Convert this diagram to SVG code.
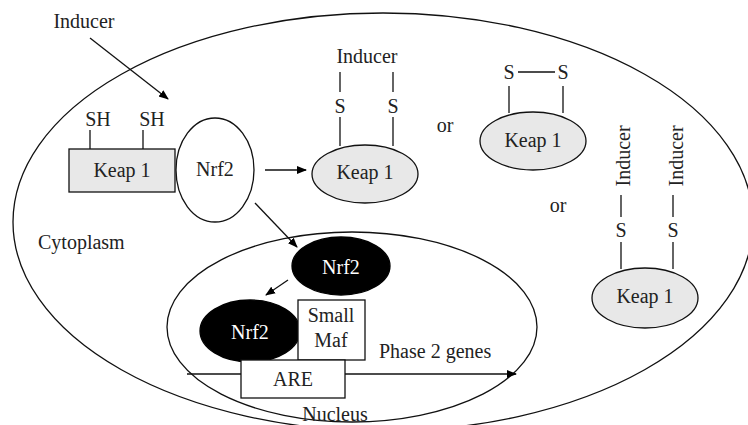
<svg xmlns="http://www.w3.org/2000/svg" width="748" height="425" viewBox="0 0 748 425">
<defs>
<style>
text{font-family:'Liberation Serif','DejaVu Serif','Times New Roman',serif;font-size:20px;fill:#222;}
.w{fill:#fff;}
.ln{stroke:#111;stroke-width:1.3;fill:none;}
.sh{stroke:#111;stroke-width:1.3;}
.g{fill:#e8e8e8;stroke:#111;stroke-width:1.3;}
.wh{fill:#fff;stroke:#111;stroke-width:1.3;}
.bk{fill:#000;stroke:#000;stroke-width:1.3;}
</style>
<marker id="ah" viewBox="0 0 10 10" refX="9" refY="5" markerWidth="10" markerHeight="10" markerUnits="userSpaceOnUse" orient="auto">
<path d="M0,1 L10,5 L0,9 Z" fill="#000"/>
</marker>
</defs>
<rect width="748" height="425" fill="#fff"/>
<g id="cell">
<ellipse class="ln" cx="383" cy="222" rx="370" ry="209"/>
<text x="38" y="249">Cytoplasm</text>
</g>
<g id="nucleus">
<ellipse class="ln" cx="352" cy="327" rx="185" ry="95"/>
<text x="335" y="421" text-anchor="middle">Nucleus</text>
</g>
<g id="inducer-label">
<text x="84" y="28" text-anchor="middle">Inducer</text>
</g>
<g id="keap1-rect">
<line class="sh" x1="90" y1="130" x2="90" y2="149"/>
<line class="sh" x1="143" y1="130" x2="143" y2="149"/>
<text x="98" y="126" text-anchor="middle">SH</text>
<text x="152" y="126" text-anchor="middle">SH</text>
<rect class="g" x="69" y="149" width="106" height="43"/>
<text x="122" y="177" text-anchor="middle">Keap 1</text>
</g>
<g id="nrf2">
<ellipse class="wh" cx="215" cy="170" rx="39" ry="52"/>
<text x="215" y="176" text-anchor="middle">Nrf2</text>
</g>
<g id="keap1-a">
<text x="367" y="63" text-anchor="middle">Inducer</text>
<line class="sh" x1="340" y1="72" x2="340" y2="92"/>
<line class="sh" x1="393" y1="72" x2="393" y2="92"/>
<text x="340" y="113" text-anchor="middle">S</text>
<text x="393" y="113" text-anchor="middle">S</text>
<line class="sh" x1="340" y1="117" x2="340" y2="146"/>
<line class="sh" x1="393" y1="117" x2="393" y2="146"/>
<ellipse class="g" cx="365" cy="174" rx="53" ry="29"/>
<text x="365" y="179" text-anchor="middle">Keap 1</text>
</g>
<g id="or1"><text x="445" y="132" text-anchor="middle">or</text></g>
<g id="keap1-b">
<text x="509" y="79" text-anchor="middle">S</text>
<text x="563" y="79" text-anchor="middle">S</text>
<line class="sh" x1="518" y1="72" x2="555" y2="72"/>
<line class="sh" x1="509" y1="86" x2="509" y2="113"/>
<line class="sh" x1="563" y1="86" x2="563" y2="113"/>
<ellipse class="g" cx="533" cy="141" rx="53" ry="29"/>
<text x="533" y="147" text-anchor="middle">Keap 1</text>
</g>
<g id="or2"><text x="558" y="212" text-anchor="middle">or</text></g>
<g id="keap1-c">
<text transform="translate(630 156) rotate(-90)" text-anchor="middle">Inducer</text>
<text transform="translate(683 156) rotate(-90)" text-anchor="middle">Inducer</text>
<line class="sh" x1="621" y1="195" x2="621" y2="217"/>
<line class="sh" x1="673" y1="195" x2="673" y2="217"/>
<text x="621" y="237" text-anchor="middle">S</text>
<text x="673" y="237" text-anchor="middle">S</text>
<line class="sh" x1="621" y1="242" x2="621" y2="269"/>
<line class="sh" x1="673" y1="242" x2="673" y2="269"/>
<ellipse class="g" cx="645" cy="298" rx="53" ry="30"/>
<text x="645" y="303" text-anchor="middle">Keap 1</text>
</g>
<g id="connectors">
<line class="ln" x1="90" y1="38" x2="168" y2="99" marker-end="url(#ah)"/>
<line class="ln" x1="265" y1="170" x2="306" y2="170" marker-end="url(#ah)"/>
<line class="ln" x1="255" y1="203" x2="297" y2="247" marker-end="url(#ah)"/>
<line class="ln" x1="288" y1="280" x2="266" y2="295" marker-end="url(#ah)"/>
<line class="ln" x1="187" y1="374" x2="516" y2="374" marker-end="url(#ah)"/>
</g>
<g id="nrf2-nuc1">
<ellipse class="bk" cx="341" cy="266" rx="49" ry="29"/>
<text class="w" x="341" y="274" text-anchor="middle">Nrf2</text>
</g>
<g id="nrf2-nuc2">
<ellipse class="bk" cx="250" cy="331" rx="50" ry="31"/>
<text class="w" x="250" y="339" text-anchor="middle">Nrf2</text>
</g>
<g id="small-maf">
<rect class="wh" x="298" y="300" width="67" height="60"/>
<text x="331" y="322" text-anchor="middle">Small</text>
<text x="331" y="347" text-anchor="middle">Maf</text>
</g>
<g id="are">
<rect class="wh" x="241" y="360" width="104" height="38"/>
<text x="293" y="386" text-anchor="middle">ARE</text>
</g>
<g id="phase2">
<text x="379" y="358">Phase 2 genes</text>
</g>
</svg>
